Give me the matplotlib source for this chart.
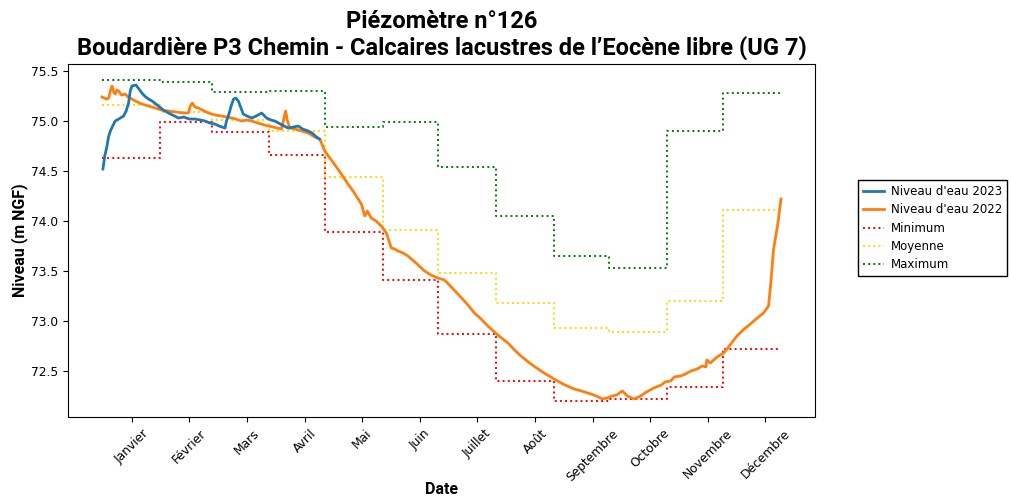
# ============================================================
# PIÉZOMÈTRE N°126 - NIVEAUX D'EAU
# ============================================================

import numpy as np
import matplotlib.pyplot as plt
from matplotlib.lines import Line2D


# ============================================================
# DONNÉES
# ============================================================

mois = [
    "Janvier", "Février", "Mars", "Avril", "Mai", "Juin",
    "Juillet", "Août", "Septembre", "Octobre", "Novembre", "Décembre"
]

# début de chaque mois (jour de l'année) + fin d'année
debut_mois = [0, 31, 59, 90, 120, 151, 181, 212, 243, 273, 304, 334, 365]

# position des étiquettes de mois
jours_ticks = [16, 47, 78, 109, 140, 171, 202, 233, 264, 295, 326, 357]

minimum = [74.63, 74.99, 74.89, 74.66, 73.89, 73.41,
           72.87, 72.40, 72.20, 72.22, 72.34, 72.72]
moyenne = [75.16, 75.09, 75.01, 74.90, 74.44, 73.91,
           73.48, 73.18, 72.93, 72.89, 73.20, 74.11]
maximum = [75.41, 75.39, 75.29, 75.30, 74.94, 74.99,
           74.54, 74.05, 73.65, 73.53, 74.90, 75.28]

jours_2023 = [
    0.5, 1.5, 2.7, 3.5, 4.5, 6, 7.1, 9, 11.6, 13, 14.3, 15.2, 16.1, 18.3,
    19.5, 21.5, 23, 25, 27, 30.4, 33, 35.8, 38, 41.2, 44, 47, 50, 53, 55.5,
    58, 60.8, 63, 66.2, 67, 68, 69.5, 70.8, 72, 73.4, 75, 76, 78, 80.5, 83,
    85.9, 87, 88.6, 91, 93, 96, 98, 100.2, 103, 105.6, 108, 111, 113, 115.4,
    117
]
niveau_2023 = [
    74.52, 74.65, 74.75, 74.84, 74.90, 74.96, 75.00, 75.02, 75.05, 75.10,
    75.18, 75.30, 75.35, 75.36, 75.33, 75.28, 75.25, 75.22, 75.20, 75.15,
    75.11, 75.08, 75.06, 75.03, 75.04, 75.02, 75.02, 75.01, 75.00, 74.98,
    74.97, 74.95, 74.93, 75.00, 75.05, 75.15, 75.22, 75.23, 75.20, 75.12,
    75.07, 75.05, 75.03, 75.05, 75.08, 75.06, 75.03, 75.01, 75.00, 74.97,
    74.95, 74.93, 74.94, 74.95, 74.92, 74.90, 74.88, 74.84, 74.82
]

jours_2022 = [
    0, 2.5, 3.6, 4.5, 5.4, 6.3, 7.1, 8, 9, 10.5, 12.5, 14, 16.1, 18, 21.5,
    25, 28.6, 32, 35.8, 40, 44, 46.5, 47.5, 48.6, 50, 51.9, 54, 57.3, 61,
    64.4, 67, 69.8, 72, 75.1, 78, 80.5, 84, 87.6, 92, 96.6, 97.8, 98.8,
    99.8, 101.1, 104, 107.4, 111, 114.5, 117.2, 119.9, 122.6, 125, 128.8,
    132, 135.1, 137.5, 139.6, 141.4, 142.8, 144.9, 147.5, 150.3, 153, 155.7,
    157.5, 159.3, 162, 164.6, 169, 173.6, 177, 180.7, 184.3, 188, 191.5,
    196, 200.4, 204, 207.6, 213, 218.4, 222, 225.4, 230.8, 237, 243.3, 248,
    254, 258, 263, 266, 269.3, 272, 274.6, 277, 280, 282.7, 286.3, 289.9,
    293, 297, 301, 303, 306, 308, 311.3, 314, 317, 320.3, 323, 325, 325.5,
    327.4, 331, 334.6, 338, 341.7, 345, 348.9, 352, 356, 358.7, 360, 361.4,
    363.5, 365.4
]
niveau_2022 = [
    75.24, 75.22, 75.23, 75.30, 75.35, 75.29, 75.27, 75.31, 75.30, 75.26,
    75.27, 75.24, 75.22, 75.20, 75.17, 75.15, 75.13, 75.11, 75.10, 75.09,
    75.08, 75.08, 75.15, 75.18, 75.14, 75.13, 75.11, 75.08, 75.06, 75.05,
    75.04, 75.03, 75.02, 75.00, 75.01, 75.00, 74.98, 74.96, 74.94, 74.92,
    75.02, 75.10, 75.00, 74.93, 74.92, 74.90, 74.88, 74.84, 74.82, 74.70,
    74.63, 74.57, 74.47, 74.38, 74.30, 74.23, 74.17, 74.05, 74.10, 74.03,
    74.00, 73.95, 73.88, 73.73, 73.72, 73.70, 73.68, 73.65, 73.58, 73.50,
    73.46, 73.43, 73.41, 73.34, 73.27, 73.18, 73.08, 73.02, 72.95, 72.86,
    72.78, 72.71, 72.65, 72.57, 72.49, 72.42, 72.37, 72.32, 72.30, 72.27,
    72.25, 72.22, 72.23, 72.25, 72.26, 72.30, 72.25, 72.22, 72.25, 72.29,
    72.33, 72.36, 72.39, 72.40, 72.44, 72.45, 72.47, 72.50, 72.52, 72.55,
    72.54, 72.61, 72.58, 72.64, 72.68, 72.76, 72.85, 72.91, 72.97, 73.02,
    73.08, 73.15, 73.40, 73.72, 73.95, 74.22
]


# ============================================================
# GRAPHIQUE
# ============================================================

fig = plt.figure(figsize=(10.11, 5.0), dpi=100)
ax = fig.add_axes([0.0673, 0.166, 0.7388, 0.706])

ax.plot(jours_2023, niveau_2023, color="#1f77b4", linewidth=2.0,
        label="Niveau d'eau 2023", zorder=4)
ax.plot(jours_2022, niveau_2022, color="#ff7f0e", linewidth=2.0,
        label="Niveau d'eau 2022", zorder=3)

ax.step(debut_mois, minimum + [minimum[-1]], where="post",
        color="red", linestyle=":", linewidth=1.4, label="Minimum")
ax.step(debut_mois, moyenne + [moyenne[-1]], where="post",
        color="gold", linestyle=":", linewidth=1.4, label="Moyenne")
ax.step(debut_mois, maximum + [maximum[-1]], where="post",
        color="green", linestyle=":", linewidth=1.4, label="Maximum")

ax.set_xticks(jours_ticks)
ax.set_xticklabels(mois, rotation=45, fontsize=8.8)
ax.tick_params(axis="y", labelsize=8.8)
ax.set_yticks([72.5, 73.0, 73.5, 74.0, 74.5, 75.0, 75.5])

ax.set_xlabel("Date", fontfamily="Roboto", fontweight="bold", fontsize=11.5)
ax.xaxis.set_label_coords(0.5, -0.185)
ax.set_ylabel("Niveau (m NGF)", fontfamily="Roboto", fontweight="bold",
              fontsize=11.5, labelpad=2)

fig.suptitle(
    "Piézomètre n°126\n"
    "Boudardière P3 Chemin - Calcaires lacustres de l’Eocène libre (UG 7)",
    fontfamily="Roboto", fontweight="bold", fontsize=17,
    x=0.437, y=0.98, linespacing=1.15
)

poignees = [
    Line2D([], [], color="#1f77b4", linewidth=2),
    Line2D([], [], color="#ff7f0e", linewidth=2),
    Line2D([], [], color="red", linestyle=":", linewidth=1.4),
    Line2D([], [], color="gold", linestyle=":", linewidth=1.4),
    Line2D([], [], color="green", linestyle=":", linewidth=1.4),
]
etiquettes = ["Niveau d'eau 2023", "Niveau d'eau 2022",
              "Minimum", "Moyenne", "Maximum"]

legende = ax.legend(
    poignees, etiquettes,
    loc="center left",
    bbox_to_anchor=(1.05, 0.535),
    fontsize=8.5,
    fancybox=False,
    edgecolor="black",
    framealpha=1,
    borderpad=0.4,
    labelspacing=0.45,
    handlelength=1.8,
    handletextpad=0.6
)

plt.savefig("out.png", dpi=100)
